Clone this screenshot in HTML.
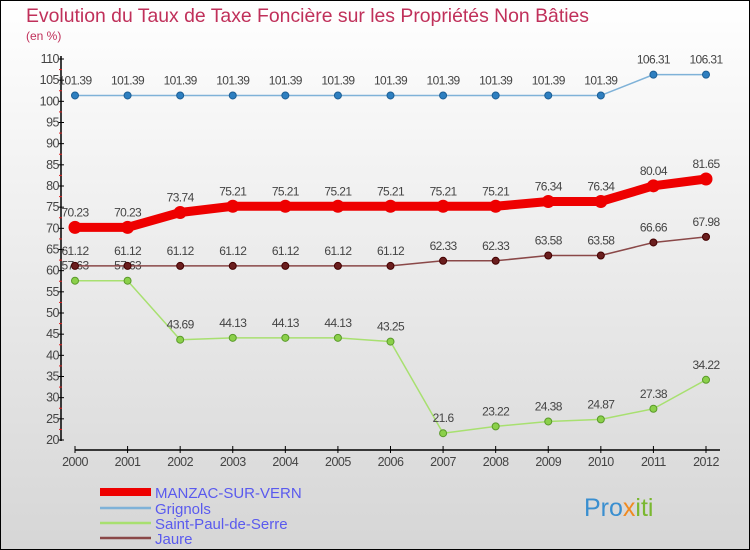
<!DOCTYPE html>
<html><head><meta charset="utf-8"><style>
html,body{margin:0;padding:0}
body{width:750px;height:550px;overflow:hidden;font-family:"Liberation Sans",sans-serif}
#wrap{position:absolute;left:0;top:0;width:748px;height:548px;border:1px solid #000;background:linear-gradient(#ffffff,#d6d6d6)}
</style></head><body>
<div id="wrap"></div>
<svg id="chart" width="750" height="550" style="position:absolute;left:0;top:0">
<text x="26" y="22" font-size="19.4" fill="#c0305a">Evolution du Taux de Taxe Foncière sur les Propriétés Non Bâties</text>
<text x="26" y="40" font-size="12" fill="#c0305a">(en %)</text>
<g id="axes"></g><g id="series"></g><g id="legend"></g>
<text x="584" y="516" font-size="25" fill="#3a8fd0">Pro<tspan fill="#f08a20">x</tspan><tspan fill="#7ab830">iti</tspan></text>
</svg>
<script>
const years=[2000,2001,2002,2003,2004,2005,2006,2007,2008,2009,2010,2011,2012];
const manzac=[70.23,70.23,73.74,75.21,75.21,75.21,75.21,75.21,75.21,76.34,76.34,80.04,81.65];
const grignols=[101.39,101.39,101.39,101.39,101.39,101.39,101.39,101.39,101.39,101.39,101.39,106.31,106.31];
const saintPaul=[57.63,57.63,43.69,44.13,44.13,44.13,43.25,21.6,23.22,24.38,24.87,27.38,34.22];
const jaure=[61.12,61.12,61.12,61.12,61.12,61.12,61.12,62.33,62.33,63.58,63.58,66.66,67.98];
const yTicks=[20,25,30,35,40,45,50,55,60,65,70,75,80,85,90,95,100,105,110];
const seriesNames=["MANZAC-SUR-VERN","Grignols","Saint-Paul-de-Serre","Jaure"];
const NS="http://www.w3.org/2000/svg";
const X=i=>75+i*(706-75)/(years.length-1);
const Y=v=>440-(v-20)*(440-59)/90;
function mk(tag,attrs,parent){const e=document.createElementNS(NS,tag);for(const k in attrs)e.setAttribute(k,attrs[k]);parent.appendChild(e);return e;}
const axes=document.getElementById('axes');
let a=mk('line',{x1:61,y1:56,x2:61,y2:441,stroke:'#000','stroke-width':1.5},axes);


a=mk('line',{x1:75,y1:450,x2:720,y2:450,stroke:'#000','stroke-width':1.5},axes);


yTicks.forEach(v=>{
 const t=mk('line',{x1:58,x2:64,y1:Y(v),y2:Y(v),stroke:'#000'},axes);
 
 
 const r=mk('line',{x1:59,x2:62,y1:Y(v+2.5),y2:Y(v+2.5),stroke:'#e02020'},axes);
 if(v==110)r.remove();
 const l=mk('text',{x:59,y:Y(v)+4,'font-size':12.5,fill:'#444','text-anchor':'end','letter-spacing':'-0.5'},axes);
 l.textContent=v;
 
 
});
years.forEach((y,i)=>{
 const t=mk('line',{x1:X(i),x2:X(i),y1:446,y2:453,stroke:'#000'},axes);
 
 
 const l=mk('text',{x:X(i),y:466,'font-size':12.5,fill:'#444','text-anchor':'middle','letter-spacing':'-0.5'},axes);
 l.textContent=y;
 
 
});
const sg=document.getElementById('series');
function draw(data,name,color,w,dot,dotStroke,r){
 const g=mk('g',{},sg);
 
 
 const p=mk('polyline',{points:data.map((v,i)=>X(i)+','+Y(v)).join(' '),fill:'none',stroke:color,'stroke-width':w,'stroke-linejoin':'round'},g);
 
 
 data.forEach((v,i)=>{
  const c=mk('circle',{cx:X(i),cy:Y(v),r:r,fill:dot,stroke:dotStroke},g);
  
  
  const t=mk('text',{x:X(i),y:Y(v)-11,'font-size':12,fill:'#444','text-anchor':'middle','letter-spacing':'-0.6'},g);
  t.textContent=v;
  
  
 });
}
draw(grignols,'grignols','#7fb2d8',1.5,'#2e7fc0','#1d5f95',3.5);
draw(saintPaul,'saint-paul-de-serre','#a8e070',1.5,'#8bd04a','#5a9a2a',3.5);
draw(jaure,'jaure','#8a4848',1.5,'#6a1e1e','#400',3.5);
draw(manzac,'manzac-sur-vern','#ee0000',9,'#ee0000','#ee0000',6);
const lg=document.getElementById('legend');
const lc=['#ee0000','#7fb2d8','#a8e070','#8a4848'],lw=[8,2.5,2.5,2.5],ly=[492,508,523,538];
seriesNames.forEach((n,i)=>{
 const l=mk('line',{x1:100,x2:151,y1:ly[i],y2:ly[i],stroke:lc[i],'stroke-width':lw[i]},lg);
 
 
 const t=mk('text',{x:155,y:ly[i]+6,'font-size':15,fill:'#5a5aee'},lg);
 t.textContent=n;
 
 
});
</script>
</body></html>
